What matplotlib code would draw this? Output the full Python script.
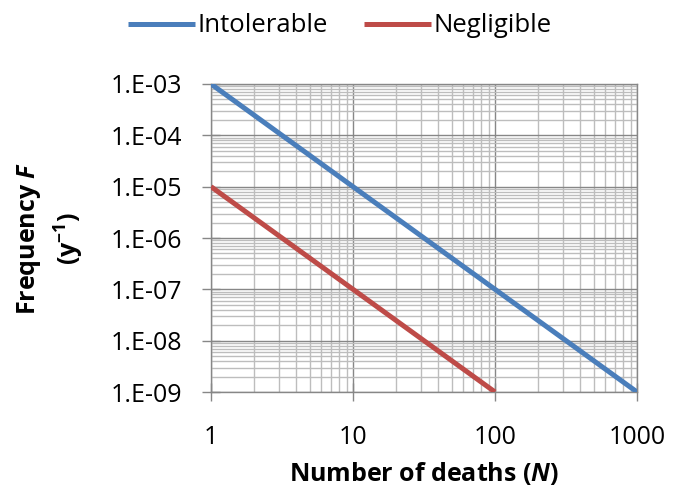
import numpy as np
import matplotlib.pyplot as plt
from matplotlib.ticker import LogLocator, FuncFormatter, FixedLocator, NullFormatter

# F-N criterion lines
intolerable_n = [1, 1000]
intolerable_f = [1e-3, 1e-9]
negligible_n = [1, 100]
negligible_f = [1e-5, 1e-9]

x_ticks = [1, 10, 100, 1000]
x_tick_labels = ["1", "10", "100", "1000"]

plt.rcParams['font.family'] = ['Open Sans', 'DejaVu Sans']
plt.rcParams['mathtext.fontset'] = 'custom'
plt.rcParams['mathtext.rm'] = 'Open Sans:bold'
plt.rcParams['mathtext.it'] = 'Open Sans:italic:bold'
plt.rcParams['mathtext.bf'] = 'Open Sans:bold'

fig = plt.figure(figsize=(6.84, 4.98), dpi=100)
ax = fig.add_axes([211 / 684, 1 - 392 / 498, (637 - 211) / 684, (392 - 84) / 498])

ax.plot(intolerable_n, intolerable_f, color="#4a7ebb", lw=3.6, label="Intolerable",
        solid_capstyle="butt", zorder=3)
ax.plot(negligible_n, negligible_f, color="#be4b48", lw=3.6, label="Negligible",
        solid_capstyle="butt", zorder=3)

ax.set_xscale("log")
ax.set_yscale("log")
ax.set_xlim(1, 1000)
ax.set_ylim(1e-9, 1e-3)

ax.xaxis.set_major_locator(FixedLocator(x_ticks))
ax.set_xticklabels(x_tick_labels)
ax.xaxis.set_minor_locator(LogLocator(base=10, subs=np.arange(2, 10)))
ax.xaxis.set_minor_formatter(NullFormatter())

ax.yaxis.set_major_locator(LogLocator(base=10, numticks=20))
ax.yaxis.set_minor_locator(LogLocator(base=10, subs=np.arange(2, 10), numticks=20))
ax.yaxis.set_minor_formatter(NullFormatter())
ax.yaxis.set_major_formatter(FuncFormatter(
    lambda v, p: "1.E-%02d" % int(round(-np.log10(v)))))

ax.grid(which="major", color="#878787", lw=1.0, zorder=1)
ax.grid(which="minor", color="#bdbdbd", lw=1.0, zorder=1)
ax.set_axisbelow(True)

for s in ax.spines.values():
    s.set_color("#878787")
    s.set_linewidth(1.0)

ax.tick_params(which="major", direction="inout", length=13, width=1.0,
               color="#878787", labelsize=18)
ax.tick_params(which="minor", length=0)
ax.tick_params(axis="x", pad=17)
ax.tick_params(axis="y", pad=14)

ax.set_xlabel(r"Number of deaths ($\it{N}$)", fontsize=18, fontweight="bold")
ax.xaxis.set_label_coords(0.5, -0.222)
ax.set_ylabel("Frequency $\\it{F}$\n(y$^{-1}$)", fontsize=18, fontweight="bold",
              linespacing=1.4)
ax.yaxis.set_label_coords(-0.294, 0.5)

fig.legend(loc="center", bbox_to_anchor=(340 / 684, 1 - 26 / 498), ncol=2,
           frameon=False, fontsize=18.5, handlelength=2.6, handletextpad=0.1,
           columnspacing=1.4)

fig.savefig("out.png", dpi=100)
